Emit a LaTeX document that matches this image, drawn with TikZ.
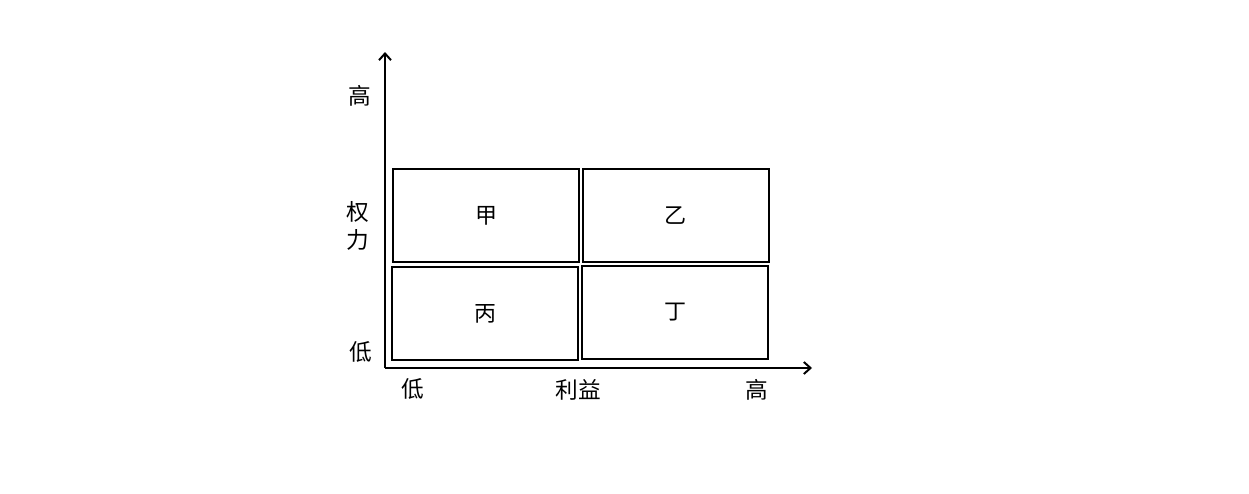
\documentclass[tikz,border=0pt]{standalone}
\usepackage{fontspec}
\newfontfamily\cjk{Noto Sans CJK SC}
\usepackage{tikz}
\usetikzlibrary{positioning}
\usetikzlibrary{arrows.meta}
\begin{document}
\begin{tikzpicture}[x=0.75pt, y=-0.75pt,
cell/.style={rectangle, draw=black, line width=1.5pt, minimum width=139.5pt, minimum height=69.75pt, inner sep=0pt, font=\cjk\fontsize{16.5}{19}\selectfont},
axislabel/.style={inner sep=0pt, font=\cjk\fontsize{17}{21}\selectfont},
]
\useasboundingbox (0,0) rectangle (1249,493);
%Nodes
\node[cell] (jia)  at (486, 215.5) {甲};
\node[cell] (yi)   at (675.5, 215.5) {乙};
\node[cell] (bing) at (485, 313.5) {丙};
\node[cell] (ding) at (675, 312.5) {丁};
\node[axislabel] (high_y) at (360, 96) {高};
\node[axislabel, align=center] (power) at (358, 226) {权\\力};
\node[axislabel] (low_y) at (361, 352) {低};
\node[axislabel] (low_x) at (413, 389) {低};
\node[axislabel] (benefit) at (578, 390) {利益};
\node[axislabel] (high_x) at (757, 390) {高};
%Lines
\coordinate (origin) at (385, 368);
\coordinate (ytip) at (385, 52);
\coordinate (xtip) at (812, 368);
\draw[line width=1.5pt, -{Straight Barb[length=5pt, width=9pt]}] (origin) -- (ytip);
\draw[line width=1.5pt, -{Straight Barb[length=5pt, width=9pt]}] (origin) -- (xtip);
\end{tikzpicture}
\end{document}
